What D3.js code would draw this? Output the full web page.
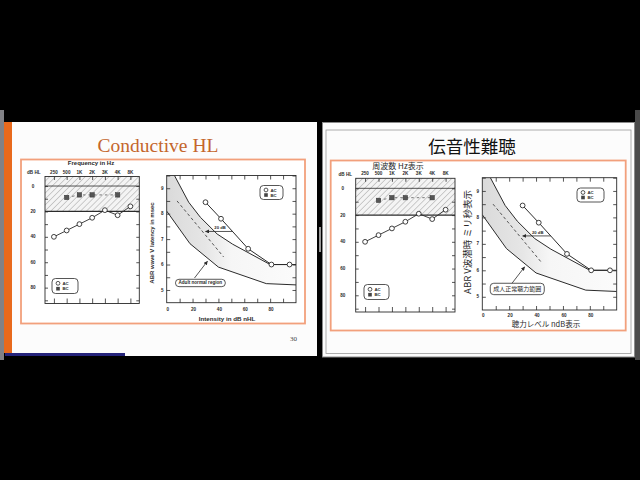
<!DOCTYPE html>
<html>
<head>
<meta charset="utf-8">
<script src="https://cdn.jsdelivr.net/npm/d3@7"></script>
<style>
  body { margin: 0; background: #000; }
  svg { display: block; }
</style>
</head>
<body>
<svg id="chart" width="640" height="480"></svg>
<script>
// audiogram (dB HL per frequency)
var freqs = ["250", "500", "1K", "2K", "3K", "4K", "8K"];
var acThresholds = [40, 35, 30, 25, 19, 23, 16];
var bcFreqs = ["500", "1K", "2K", "4K"];
var bcThresholds = [9, 7, 7, 7];
var dbTicks = [0, 20, 40, 60, 80];

// ABR wave V latency-intensity function
var abrLevels = [30, 42, 63, 81, 95];
var abrLatency = [8.45, 7.8, 6.62, 6.0, 6.0];
var normUpperLevel = [6, 17, 26, 39, 51, 80, 100];
var normUpperLat = [9.5, 8.45, 7.86, 7.2, 6.8, 6.0, 6.0];
var normLowerLevel = [0, 18, 40, 77, 100];
var normLowerLat = [8.1, 6.82, 5.9, 5.25, 5.2];
var normMeanLevel = [8, 44];
var normMeanLat = [8.5, 6.3];
var shiftLevel = [30, 51];
var shiftLat = 7.3;
var levelTicks = [0, 20, 40, 60, 80];
var latTicks = [5, 6, 7, 8, 9];

var ink = "#2b2b2b";
var svg = d3.select("#chart");

// the two slides, english one on the left, japanese one on the right
var slides = [
  {
    title: "Conductive HL", titleX: 158, titleY: 151.5, titleSize: 19.5,
    titleFont: "'Liberation Serif', 'DejaVu Serif', serif", titleColor: "#c4662c",
    frame: [21, 159.5, 284, 164],
    font: "'Liberation Sans', Arial, sans-serif", weight: "bold", tick: 4.6,
    aud: { x0: 45, x1: 139.3, y0: 176.5, y1: 303.5, lab: 12, legend: [52, 278.5, 26, 15],
           head: "Frequency in Hz", headX: 91, headY: 164.8, headSize: 6, dbX: 27, dbY: 174 },
    abr: { x0: 166.7, x1: 296, y0: 175.5, y1: 302.7, legend: [260, 185.5, 23, 14], tickGap: 8,
           yTitle: "ABR wave V latency in msec", yTitleX: 153.5, yTitleY: 243, yTitleSize: 6,
           xTitle: "Intensity in dB nHL", xTitleX: 227, xTitleY: 320.6, xTitleSize: 6.2,
           norm: "Adult normal region", normSize: 4.6 }
  },
  {
    title: "伝音性難聴", titleX: 472, titleY: 152.5, titleSize: 17.5,
    titleFont: "'Noto Sans CJK JP', sans-serif", titleColor: "#111",
    frame: [330.7, 160.5, 295, 170],
    font: "'Liberation Sans', Arial, sans-serif", weight: "bold", tick: 4.6,
    jp: "'Noto Sans CJK JP', sans-serif",
    aud: { x0: 355.7, x1: 455, y0: 178.3, y1: 312, lab: 13, legend: [364, 284.5, 25, 15],
           head: "周波数 Hz表示", headX: 398, headY: 168.8, headSize: 8, dbX: 338.5, dbY: 175.5 },
    abr: { x0: 482.3, x1: 616.7, y0: 177.7, y1: 310, legend: [577, 188, 27, 14], tickGap: 6.8,
           yTitle: "ABR V波潜時 ミリ秒表示", yTitleX: 471, yTitleY: 242, yTitleSize: 9.5,
           xTitle: "聴力レベル ndB表示", xTitleX: 546, xTitleY: 326.8, xTitleSize: 7.5,
           norm: "成人正常聴力範囲", normSize: 6 }
  }
];

var defs = svg.append("defs");
defs.append("pattern")
  .attr("id", "hatch")
  .attr("patternUnits", "userSpaceOnUse")
  .attr("width", 4.2).attr("height", 4.2)
  .attr("patternTransform", "rotate(45)")
  .append("line")
  .attr("x1", 0).attr("y1", 0).attr("x2", 0).attr("y2", 4.2)
  .attr("stroke", "#6a6a6a").attr("stroke-width", 0.6);

var grad = defs.append("linearGradient").attr("id", "shade").attr("x1", 0).attr("x2", 1).attr("y1", 0).attr("y2", 0);
grad.append("stop").attr("offset", 0).attr("stop-color", "#dadada");
grad.append("stop").attr("offset", 0.3).attr("stop-color", "#e6e6e6");
grad.append("stop").attr("offset", 0.5).attr("stop-color", "#f6f6f6");
grad.append("stop").attr("offset", 1).attr("stop-color", "#fbfbfb");

defs.append("marker")
  .attr("id", "arrow")
  .attr("viewBox", "0 0 10 10")
  .attr("refX", 9).attr("refY", 5)
  .attr("markerWidth", 5).attr("markerHeight", 5)
  .attr("orient", "auto-start-reverse")
  .append("path").attr("d", "M0,0L10,5L0,10z").attr("fill", ink);

// screen furniture round the two slides
svg.append("rect").attr("x", 0).attr("y", 110).attr("width", 4).attr("height", 250).attr("fill", "#818186");
svg.append("rect").attr("x", 12).attr("y", 122).attr("width", 305).attr("height", 234).attr("fill", "#fcfcfc");
svg.append("rect").attr("x", 4).attr("y", 122).attr("width", 8).attr("height", 231).attr("fill", "#e8691c");
svg.append("rect").attr("x", 5).attr("y", 353).attr("width", 120).attr("height", 3).attr("fill", "#25237a");
svg.append("rect").attr("x", 319).attr("y", 227).attr("width", 2).attr("height", 25).attr("fill", "#9a9a9a");
svg.append("rect").attr("x", 322.5).attr("y", 122.5).attr("width", 312).attr("height", 234.5)
  .attr("fill", "#fcfcfc").attr("stroke", "#8a8a8a");
svg.append("rect").attr("x", 326).attr("y", 130).attr("width", 305).attr("height", 223.5)
  .attr("fill", "none").attr("stroke", "#9a9a9a").attr("stroke-width", 0.8);
svg.append("rect").attr("x", 635).attr("y", 110).attr("width", 5).attr("height", 250).attr("fill", "#4a4a4a");
svg.append("text").attr("x", 293.5).attr("y", 340.5).attr("text-anchor", "middle")
  .style("font", "7px 'Liberation Serif', serif").attr("fill", "#444").text("30");

function ticksOnly(axis) {
  return function (sel) {
    sel.call(axis.tickFormat(""));
    sel.select(".domain").remove();
    sel.selectAll("line").attr("stroke", ink).attr("stroke-width", 0.8);
  };
}

function label(g, S, x, y, txt, size, anchor, font) {
  return g.append("text")
    .attr("x", x).attr("y", y)
    .attr("text-anchor", anchor || "middle")
    .attr("fill", "#2a2a2a")
    .style("font-family", font || S.font)
    .style("font-weight", font ? "normal" : S.weight)
    .style("font-size", size + "px")
    .text(txt);
}

function legend(g, S, r) {
  g.append("rect").attr("x", r[0]).attr("y", r[1]).attr("width", r[2]).attr("height", r[3])
    .attr("rx", 3.5).attr("fill", "white").attr("stroke", ink).attr("stroke-width", 0.8);
  var cx = r[0] + 6;
  g.append("circle").attr("cx", cx).attr("cy", r[1] + r[3] * 0.32).attr("r", 1.9)
    .attr("fill", "white").attr("stroke", ink).attr("stroke-width", 0.8);
  g.append("rect").attr("x", cx - 1.8).attr("y", r[1] + r[3] * 0.68 - 1.8).attr("width", 3.6).attr("height", 3.6)
    .attr("fill", "#444");
  label(g, S, cx + 4.5, r[1] + r[3] * 0.32 + 1.6, "AC", 4.3, "start");
  label(g, S, cx + 4.5, r[1] + r[3] * 0.68 + 1.6, "BC", 4.3, "start");
}

function drawAudiogram(S, i) {
  var L = S.aud;
  var g = svg.append("g");
  var x = d3.scalePoint().domain(freqs).range([L.x0, L.x1]).padding(0.7);
  var y = d3.scaleLinear().domain([-7.5, 92.5]).range([L.y0, L.y1]);

  // normal hearing range, hatched
  g.append("rect").attr("x", L.x0).attr("y", L.y0).attr("width", L.x1 - L.x0).attr("height", y(20) - L.y0)
    .attr("fill", "#f4f4f4");
  g.append("rect").attr("x", L.x0).attr("y", L.y0).attr("width", L.x1 - L.x0).attr("height", y(20) - L.y0)
    .attr("fill", "url(#hatch)");
  g.append("line").attr("x1", L.x0).attr("x2", L.x1).attr("y1", y(0)).attr("y2", y(0))
    .attr("stroke", ink).attr("stroke-width", 0.8);
  g.append("line").attr("x1", L.x0).attr("x2", L.x1).attr("y1", y(20)).attr("y2", y(20))
    .attr("stroke", ink).attr("stroke-width", 1.3);
  g.append("rect").attr("x", L.x0).attr("y", L.y0).attr("width", L.x1 - L.x0).attr("height", L.y1 - L.y0)
    .attr("fill", "none").attr("stroke", ink).attr("stroke-width", 0.9);

  var dbAll = d3.range(0, 91, 10);
  g.append("g").attr("transform", "translate(" + L.x0 + ",0)").call(ticksOnly(d3.axisRight(y).tickValues(dbAll).tickSize(3)));
  g.append("g").attr("transform", "translate(" + L.x1 + ",0)").call(ticksOnly(d3.axisLeft(y).tickValues(dbAll).tickSize(3)));
  g.append("g").attr("transform", "translate(0," + L.y1 + ")").call(ticksOnly(d3.axisTop(x).tickSize(5)));
  g.append("g").attr("transform", "translate(0," + L.y0 + ")").call(ticksOnly(d3.axisBottom(x).tickSize(3.5)));

  // labels
  freqs.forEach(function (f) { label(g, S, x(f), L.y0 - 3, f, S.tick); });
  dbTicks.forEach(function (v) { label(g, S, L.x0 - L.lab, y(v) + 1.6, v, S.tick); });
  label(g, S, L.dbX, L.dbY, "dB HL", S.tick, "start");
  label(g, S, L.headX, L.headY, L.head, L.headSize, "middle", S.jp);

  // bone conduction
  var bc = bcFreqs.map(function (f, k) { return [x(f), y(bcThresholds[k])]; });
  g.append("path").attr("d", d3.line()(bc)).attr("fill", "none")
    .attr("stroke", "#444").attr("stroke-width", 0.7).attr("stroke-dasharray", "2.5,3");
  g.selectAll(".bc").data(bc).enter().append("rect")
    .attr("x", function (d) { return d[0] - 2.2; }).attr("y", function (d) { return d[1] - 2.2; })
    .attr("width", 4.4).attr("height", 4.4).attr("fill", "#555").attr("stroke", "#333").attr("stroke-width", 0.5);

  // air conduction
  var ac = freqs.map(function (f, k) { return [x(f), y(acThresholds[k])]; });
  g.append("path").attr("d", d3.line()(ac)).attr("fill", "none").attr("stroke", ink).attr("stroke-width", 0.9);
  g.selectAll(".ac").data(ac).enter().append("circle")
    .attr("cx", function (d) { return d[0]; }).attr("cy", function (d) { return d[1]; })
    .attr("r", 2.4).attr("fill", "white").attr("stroke", ink).attr("stroke-width", 0.9);

  legend(g, S, L.legend);
}

function drawAbr(S, i) {
  var L = S.abr;
  var g = svg.append("g");
  var x = d3.scaleLinear().domain([0, 100]).range([L.x0, L.x1]);
  var y = d3.scaleLinear().domain([4.5, 9.5]).range([L.y1, L.y0]);
  var line = d3.line().x(function (d) { return x(d[0]); }).y(function (d) { return y(d[1]); });

  defs.append("clipPath").attr("id", "clip" + i).append("rect")
    .attr("x", L.x0).attr("y", L.y0).attr("width", L.x1 - L.x0).attr("height", L.y1 - L.y0);
  var inner = g.append("g").attr("clip-path", "url(#clip" + i + ")");

  var upper = d3.zip(normUpperLevel, normUpperLat);
  var lower = d3.zip(normLowerLevel, normLowerLat);
  var region = [[0, 9.5]].concat(upper, lower.slice().reverse());
  inner.append("path").attr("d", line(region) + "Z").attr("fill", "url(#shade)");
  inner.append("path").attr("d", line(upper)).attr("fill", "none").attr("stroke", ink).attr("stroke-width", 1);
  inner.append("path").attr("d", line(lower)).attr("fill", "none").attr("stroke", ink).attr("stroke-width", 1);
  inner.append("path").attr("d", line(d3.zip(normMeanLevel, normMeanLat))).attr("fill", "none")
    .attr("stroke", "#444").attr("stroke-width", 0.9).attr("stroke-dasharray", "3,2.5");

  g.append("rect").attr("x", L.x0).attr("y", L.y0).attr("width", L.x1 - L.x0).attr("height", L.y1 - L.y0)
    .attr("fill", "none").attr("stroke", ink).attr("stroke-width", 0.9);

  var lv = d3.range(10, 100, 10), lt = d3.range(5, 9.6, 0.5);
  g.append("g").attr("transform", "translate(0," + L.y0 + ")").call(ticksOnly(d3.axisBottom(x).tickValues(lv).tickSize(4)));
  g.append("g").attr("transform", "translate(0," + L.y1 + ")").call(ticksOnly(d3.axisTop(x).tickValues(lv).tickSize(4)));
  g.append("g").attr("transform", "translate(" + L.x0 + ",0)").call(ticksOnly(d3.axisRight(y).tickValues(lt).tickSize(3.5)));
  g.append("g").attr("transform", "translate(" + L.x1 + ",0)").call(ticksOnly(d3.axisLeft(y).tickValues(lt).tickSize(3.5)));

  levelTicks.forEach(function (v) { label(g, S, x(v) + 1, L.y1 + L.tickGap, v, S.tick); });
  latTicks.forEach(function (v) { label(g, S, L.x0 - 4.5, y(v) + 1.6, v, S.tick); });

  // 20 dB shift arrow
  g.append("line").attr("x1", x(shiftLevel[0])).attr("x2", x(shiftLevel[1]))
    .attr("y1", y(shiftLat)).attr("y2", y(shiftLat))
    .attr("stroke", ink).attr("stroke-width", 0.8).attr("marker-start", "url(#arrow)");
  label(g, S, x(d3.mean(shiftLevel)) + 1, y(shiftLat) - 2, "20 dB", 4.2);

  // patient air conduction
  var pts = d3.zip(abrLevels, abrLatency);
  g.append("path").attr("d", line(pts)).attr("fill", "none").attr("stroke", ink).attr("stroke-width", 1);
  g.selectAll(".pt").data(pts).enter().append("circle")
    .attr("cx", function (d) { return x(d[0]); }).attr("cy", function (d) { return y(d[1]); })
    .attr("r", 2.4).attr("fill", "white").attr("stroke", ink).attr("stroke-width", 0.9);

  // normal region label with pointer
  g.append("line").attr("x1", x(21.5)).attr("y1", y(5.47)).attr("x2", x(31.5)).attr("y2", y(6.13))
    .attr("stroke", ink).attr("stroke-width", 0.8).attr("marker-end", "url(#arrow)");
  var t = label(g, S, x(26), y(5.28) + L.normSize * 0.35, L.norm, L.normSize, "middle", S.jp);
  var bb = t.node().getBBox();
  g.insert("rect", function () { return t.node(); })
    .attr("x", bb.x - 3).attr("y", bb.y - 1.2).attr("width", bb.width + 6).attr("height", bb.height + 2.4)
    .attr("rx", 3.5).attr("fill", "white").attr("stroke", ink).attr("stroke-width", 0.8);

  legend(g, S, L.legend);

  label(g, S, L.xTitleX, L.xTitleY, L.xTitle, L.xTitleSize, "middle", S.jp);
  label(g, S, 0, 0, L.yTitle, L.yTitleSize, "middle", S.jp)
    .attr("transform", "translate(" + L.yTitleX + "," + L.yTitleY + ") rotate(-90)");
}

slides.forEach(function (S, i) {
  svg.append("rect").attr("x", S.frame[0]).attr("y", S.frame[1]).attr("width", S.frame[2]).attr("height", S.frame[3])
    .attr("fill", "white").attr("stroke", "#f2a07c").attr("stroke-width", 1.8);
  svg.append("text").attr("x", S.titleX).attr("y", S.titleY).attr("text-anchor", "middle")
    .attr("fill", S.titleColor)
    .style("font-family", S.titleFont).style("font-size", S.titleSize + "px")
    .text(S.title);
  drawAudiogram(S, i);
  drawAbr(S, i);
});
</script>
</body>
</html>
